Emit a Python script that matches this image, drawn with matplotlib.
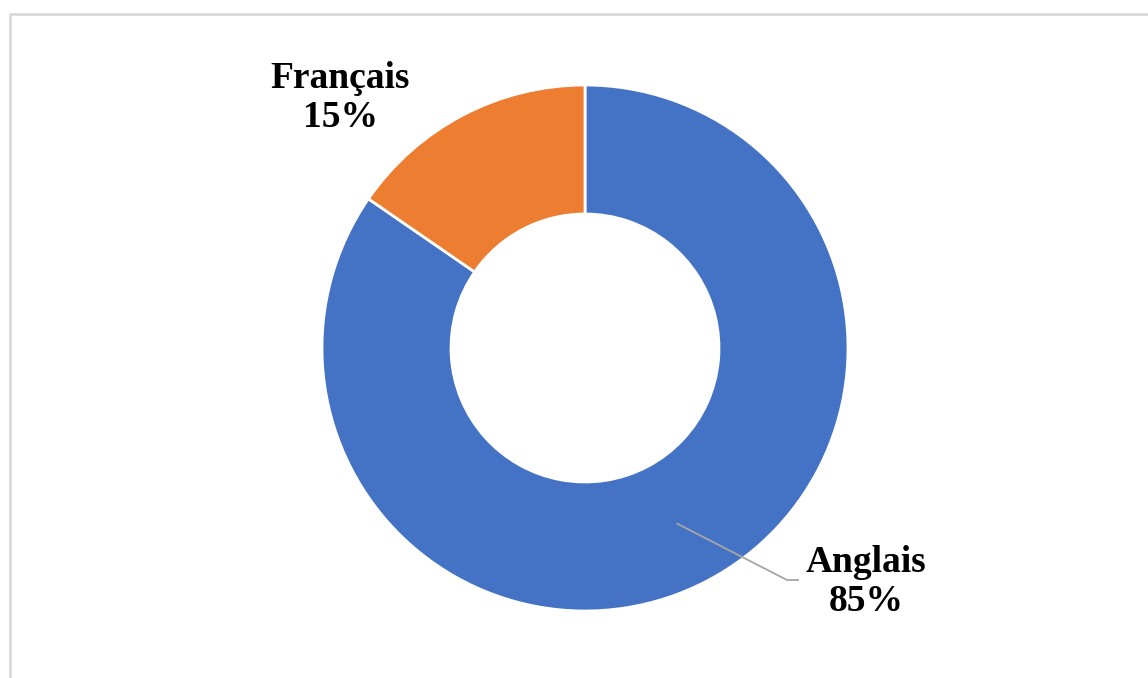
import numpy as np
import matplotlib.pyplot as plt

# Data
labels = ['Anglais', 'Français']
shares = [84.6, 15.4]
colors = ['#4472C4', '#ED7D31']

W, H = 1148, 678
fig = plt.figure(figsize=(W / 100, H / 100), dpi=100)
ax = fig.add_axes([0, 0, 1, 1])
ax.set_xlim(0, W)
ax.set_ylim(0, H)
ax.axis('off')

# light frame (cut at right and bottom)
ax.plot([9.5, 9.5, W], [0, H - 13.5, H - 13.5], color='#D9D9D9', lw=2, solid_capstyle='butt')

cx, cy = 585, 330
r_out, r_in = 263, 134
wedges, _ = ax.pie(shares, colors=colors, startangle=90, counterclock=False,
                   radius=r_out, center=(cx, cy),
                   wedgeprops=dict(width=r_out - r_in, edgecolor='white', linewidth=2))
ax.set_xlim(0, W)
ax.set_ylim(0, H)
ax.set_aspect('equal')

font = dict(family='Liberation Serif', fontweight='bold', fontsize=27,
            ha='center', va='center', linespacing=1.15)

# leader line for Anglais from middle of the ring
w = wedges[0]
mid = np.deg2rad((w.theta1 + w.theta2) / 2)
rm = (r_out + r_in) / 2
x0, y0 = cx + rm * np.cos(mid), cy + rm * np.sin(mid)
ax.plot([x0, 787, 798], [y0, 98, 98], color='#A6A6A6', lw=1.3)

ax.text(866, 96, f'{labels[0]}\n{round(shares[0])}%', **font)
ax.text(340, 580, f'{labels[1]}\n{round(shares[1])}%', **font)

fig.savefig('out.png', dpi=100)
